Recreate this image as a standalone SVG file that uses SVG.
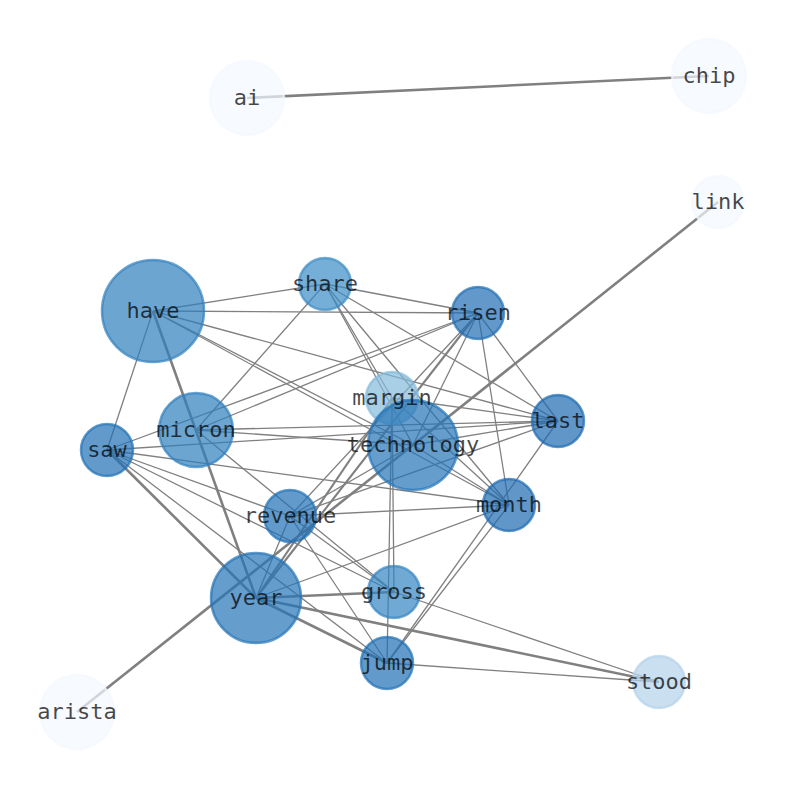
<svg xmlns="http://www.w3.org/2000/svg" width="794" height="790" viewBox="0 0 794 790">
<style>
.e{stroke:#808080;stroke-width:1.3;fill:none}
.t{stroke-width:2.6}
.m{stroke-width:2.1}
.n{fill-opacity:0.7;stroke-opacity:0.7;stroke-width:2.5}
.l{font-family:"DejaVu Sans Mono",monospace;font-size:22px;fill:#000;fill-opacity:0.72;text-anchor:middle}
</style>
<rect width="794" height="790" fill="#fff"/>
<g id="edges">
<line class="e t" x1="247" y1="98" x2="709" y2="76"/>
<line class="e t" x1="718" y1="202" x2="413" y2="445"/>
<line class="e t" x1="413" y1="445" x2="77" y2="712"/>
<line class="e t" x1="153" y1="311" x2="256" y2="598"/>
<line class="e t" x1="107" y1="450" x2="256" y2="598"/>
<line class="e t" x1="256" y1="598" x2="394" y2="592"/>
<line class="e t" x1="256" y1="598" x2="387" y2="663"/>
<line class="e t" x1="256" y1="598" x2="659" y2="682"/>
<line class="e m" x1="256" y1="598" x2="392" y2="398"/>
<line class="e m" x1="256" y1="598" x2="478" y2="313"/>
<line class="e" x1="153" y1="311" x2="325" y2="284"/>
<line class="e" x1="153" y1="311" x2="478" y2="313"/>
<line class="e" x1="153" y1="311" x2="558" y2="421"/>
<line class="e" x1="153" y1="311" x2="413" y2="445"/>
<line class="e" x1="153" y1="311" x2="509" y2="505"/>
<line class="e" x1="153" y1="311" x2="107" y2="450"/>
<line class="e" x1="325" y1="284" x2="478" y2="313"/>
<line class="e" x1="325" y1="284" x2="558" y2="421"/>
<line class="e" x1="325" y1="284" x2="392" y2="398"/>
<line class="e" x1="325" y1="284" x2="413" y2="445"/>
<line class="e" x1="325" y1="284" x2="509" y2="505"/>
<line class="e" x1="325" y1="284" x2="196" y2="430"/>
<line class="e" x1="478" y1="313" x2="107" y2="450"/>
<line class="e" x1="478" y1="313" x2="196" y2="430"/>
<line class="e" x1="478" y1="313" x2="413" y2="445"/>
<line class="e" x1="478" y1="313" x2="509" y2="505"/>
<line class="e" x1="478" y1="313" x2="558" y2="421"/>
<line class="e" x1="478" y1="313" x2="290" y2="516"/>
<line class="e" x1="196" y1="430" x2="558" y2="421"/>
<line class="e" x1="196" y1="430" x2="413" y2="445"/>
<line class="e" x1="196" y1="430" x2="394" y2="592"/>
<line class="e" x1="107" y1="450" x2="558" y2="421"/>
<line class="e" x1="107" y1="450" x2="509" y2="505"/>
<line class="e" x1="107" y1="450" x2="290" y2="516"/>
<line class="e" x1="107" y1="450" x2="394" y2="592"/>
<line class="e" x1="107" y1="450" x2="387" y2="663"/>
<line class="e" x1="413" y1="445" x2="558" y2="421"/>
<line class="e" x1="413" y1="445" x2="509" y2="505"/>
<line class="e" x1="413" y1="445" x2="290" y2="516"/>
<line class="e" x1="392" y1="398" x2="558" y2="421"/>
<line class="e" x1="392" y1="398" x2="509" y2="505"/>
<line class="e" x1="392" y1="398" x2="394" y2="592"/>
<line class="e" x1="392" y1="398" x2="387" y2="663"/>
<line class="e" x1="558" y1="421" x2="290" y2="516"/>
<line class="e" x1="558" y1="421" x2="387" y2="663"/>
<line class="e" x1="509" y1="505" x2="290" y2="516"/>
<line class="e" x1="509" y1="505" x2="256" y2="598"/>
<line class="e" x1="509" y1="505" x2="387" y2="663"/>
<line class="e" x1="290" y1="516" x2="256" y2="598"/>
<line class="e" x1="290" y1="516" x2="394" y2="592"/>
<line class="e" x1="290" y1="516" x2="387" y2="663"/>
<line class="e" x1="394" y1="592" x2="659" y2="682"/>
<line class="e" x1="387" y1="663" x2="659" y2="682"/>
</g>
<g id="node-ai"><circle class="n" cx="247" cy="98" r="37" fill="#f3f8fe" stroke="#f3f8fe"/></g>
<g id="node-chip"><circle class="n" cx="709" cy="76" r="37" fill="#f3f8fe" stroke="#f3f8fe"/></g>
<g id="node-link"><circle class="n" cx="718" cy="202" r="26" fill="#f3f8fe" stroke="#f3f8fe"/></g>
<g id="node-arista"><circle class="n" cx="77" cy="712" r="37" fill="#f3f8fe" stroke="#f3f8fe"/></g>
<g id="node-have"><circle class="n" cx="153" cy="311" r="51" fill="#2f7fbe" stroke="#2f7fbe"/></g>
<g id="node-share"><circle class="n" cx="325" cy="284" r="26" fill="#3b8cc6" stroke="#3b8cc6"/></g>
<g id="node-risen"><circle class="n" cx="478" cy="313" r="26" fill="#1f6db3" stroke="#1f6db3"/></g>
<g id="node-margin"><circle class="n" cx="392" cy="398" r="26" fill="#83bbdb" stroke="#83bbdb"/></g>
<g id="node-technology"><circle class="n" cx="413" cy="445" r="45" fill="#2473b6" stroke="#2473b6"/></g>
<g id="node-last"><circle class="n" cx="558" cy="421" r="26" fill="#1c69b0" stroke="#1c69b0"/></g>
<g id="node-micron"><circle class="n" cx="196" cy="430" r="37" fill="#2f7fbe" stroke="#2f7fbe"/></g>
<g id="node-saw"><circle class="n" cx="107" cy="450" r="26" fill="#2071b5" stroke="#2071b5"/></g>
<g id="node-revenue"><circle class="n" cx="290" cy="516" r="26" fill="#2071b5" stroke="#2071b5"/></g>
<g id="node-month"><circle class="n" cx="509" cy="505" r="26" fill="#1c69b0" stroke="#1c69b0"/></g>
<g id="node-year"><circle class="n" cx="256" cy="598" r="45" fill="#2473b6" stroke="#2473b6"/></g>
<g id="node-gross"><circle class="n" cx="394" cy="592" r="26" fill="#3385c2" stroke="#3385c2"/></g>
<g id="node-jump"><circle class="n" cx="387" cy="663" r="26" fill="#2071b5" stroke="#2071b5"/></g>
<g id="node-stood"><circle class="n" cx="659" cy="682" r="26" fill="#b4d2e9" stroke="#b4d2e9"/></g>
<g id="labels">
<text class="l" x="247" y="105">ai</text>
<text class="l" x="709" y="83">chip</text>
<text class="l" x="718" y="209">link</text>
<text class="l" x="77" y="719">arista</text>
<text class="l" x="153" y="318">have</text>
<text class="l" x="325" y="291">share</text>
<text class="l" x="478" y="320">risen</text>
<text class="l" x="392" y="405">margin</text>
<text class="l" x="413" y="452">technology</text>
<text class="l" x="558" y="428">last</text>
<text class="l" x="196" y="437">micron</text>
<text class="l" x="107" y="457">saw</text>
<text class="l" x="290" y="523">revenue</text>
<text class="l" x="509" y="512">month</text>
<text class="l" x="256" y="605">year</text>
<text class="l" x="394" y="599">gross</text>
<text class="l" x="387" y="670">jump</text>
<text class="l" x="659" y="689">stood</text>
</g>
</svg>
